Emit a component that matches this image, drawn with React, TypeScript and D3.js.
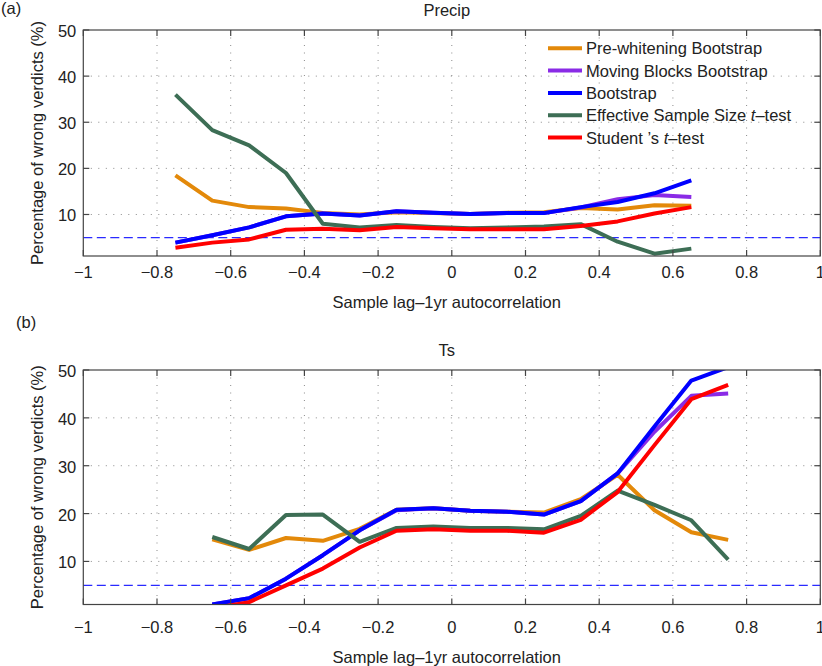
import React from "react";
import { scaleLinear, line, range } from "d3";

// Sample lag-1yr autocorrelation bins
const xsPrecip = [-0.75, -0.65, -0.55, -0.45, -0.35, -0.25, -0.15, -0.05, 0.05, 0.15, 0.25, 0.35, 0.45, 0.55, 0.65];
const xsTs = [-0.65, -0.55, -0.45, -0.35, -0.25, -0.15, -0.05, 0.05, 0.15, 0.25, 0.35, 0.45, 0.55, 0.65, 0.75];

// (a) Precip, percentage of wrong verdicts
const precipPreWhite = [18.5, 13.0, 11.6, 11.3, 10.3, 10.0, 10.5, 10.3, 10.1, 10.4, 10.5, 11.4, 11.1, 12.0, 11.9];
const precipMovingBlocks = [3.9, 5.5, 7.2, 9.6, 10.2, 9.8, 10.7, 10.4, 10.1, 10.3, 10.3, 11.5, 13.3, 14.2, 13.8];
const precipBootstrap = [3.9, 5.5, 7.2, 9.6, 10.2, 9.8, 10.7, 10.4, 10.1, 10.3, 10.3, 11.6, 12.7, 14.6, 17.4];
const precipEffective = [36.0, 28.3, 25.0, 19.0, 8.0, 7.2, 7.7, 7.3, 7.0, 7.2, 7.4, 7.9, 4.1, 1.5, 2.6];
const precipStudent = [2.8, 3.9, 4.6, 6.7, 6.9, 6.6, 7.3, 7.0, 6.8, 6.8, 6.8, 7.5, 8.5, 10.2, 11.6];

// (b) Ts
const tsPreWhite = [14.6, 12.4, 14.9, 14.3, 16.8, 20.8, 21.1, 20.6, 20.4, 20.2, 23.0, 28.1, 20.7, 16.1, 14.5];
const tsMovingBlocks = [1.0, 2.3, 6.4, 11.3, 16.5, 20.7, 21.1, 20.6, 20.4, 19.8, 22.6, 28.4, 37.1, 44.6, 45.1];
const tsBootstrap = [1.0, 2.3, 6.4, 11.3, 16.5, 20.8, 21.1, 20.6, 20.4, 19.8, 22.6, 28.4, 38.2, 47.8, 50.6];
const tsEffective = [15.1, 12.6, 19.7, 19.8, 14.1, 17.0, 17.3, 17.0, 17.0, 16.7, 19.5, 24.8, 21.8, 18.6, 10.4];
const tsStudent = [0.2, 1.5, 5.0, 8.5, 12.9, 16.4, 16.7, 16.4, 16.4, 16.0, 18.7, 24.5, 34.3, 43.9, 46.9];

const seriesNames = [
  "Pre-whitening Bootstrap",
  "Moving Blocks Bootstrap",
  "Bootstrap",
  "Effective Sample Size",
  "Student",
];
const colors = ["#e3890a", "#8a2be6", "#0000ff", "#3d6e55", "#ff0000"];

const xTicks = range(-1, 1.0001, 0.2).map((d) => Math.round(d * 10) / 10);
const yTicks = [10, 20, 30, 40, 50];
const threshold = 5;

const FONT = "'Liberation Sans', Arial, Helvetica, sans-serif";
const FS = 16.5;

const W = 822;
const H = 666;
const left = 83.3;
const right = 820.3;

const fmt = (d: number) => (d === 0 ? "0" : (d < 0 ? "\u2212" : "") + String(Math.abs(d)));

function LegendLabel({ i }: { i: number }) {
  if (i === 3)
    return (
      <>
        Effective Sample Size <tspan fontStyle="italic">t</tspan>–test
      </>
    );
  if (i === 4)
    return (
      <>
        Student ’s <tspan fontStyle="italic">t</tspan>–test
      </>
    );
  return <>{seriesNames[i]}</>;
}

function Panel({
  id,
  top,
  bottom,
  xs,
  series,
  title,
  tag,
  tagX,
  tagY,
  tickLabelDy,
  xLabelY,
  legend,
}: any) {
  const x = scaleLinear().domain([-1, 1]).range([left, right]);
  const y = scaleLinear().domain([1, 50]).range([bottom, top]);
  const path = line<number>()
    .x((_, i) => x(xs[i]))
    .y((d) => y(d));
  const cx = (left + right) / 2 - 5;
  const tick = 6;
  return (
    <g>
      <defs>
        <clipPath id={id}>
          <rect x={left} y={top} width={right - left} height={bottom - top} />
        </clipPath>
      </defs>
      {/* grid */}
      <g stroke="#8a8a8a" strokeWidth={1} strokeDasharray="1 6.5">
        {xTicks.slice(1, -1).map((t) => (
          <line key={"gx" + t} x1={x(t)} x2={x(t)} y1={top} y2={bottom} />
        ))}
        {yTicks.slice(0, -1).map((t) => (
          <line key={"gy" + t} x1={left} x2={right} y1={y(t)} y2={y(t)} />
        ))}
      </g>
      {/* 5% reference */}
      <line
        x1={left}
        x2={right}
        y1={y(threshold)}
        y2={y(threshold)}
        stroke="#2a2aff"
        strokeWidth={1.3}
        strokeDasharray="9 4.5"
      />
      <g clipPath={`url(#${id})`} fill="none" strokeWidth={4} strokeLinejoin="round">
        {series.map((s: number[], i: number) => (
          <path key={i} d={path(s) || ""} stroke={colors[i]} />
        ))}
      </g>
      {/* frame and ticks */}
      <g stroke="#444" strokeWidth={1.2}>
        <rect x={left} y={top} width={right - left} height={bottom - top} fill="none" />
        {xTicks.map((t) => (
          <g key={"tx" + t}>
            <line x1={x(t)} x2={x(t)} y1={bottom} y2={bottom - tick} />
            <line x1={x(t)} x2={x(t)} y1={top} y2={top + tick} />
          </g>
        ))}
        {yTicks.map((t) => (
          <g key={"ty" + t}>
            <line x1={left} x2={left + tick} y1={y(t)} y2={y(t)} />
            <line x1={right} x2={right - tick} y1={y(t)} y2={y(t)} />
          </g>
        ))}
      </g>
      <g fontFamily={FONT} fontSize={FS} fill="#222">
        {xTicks.map((t) => (
          <text
            key={"lx" + t}
            x={x(t)}
            y={bottom + tickLabelDy}
            textAnchor="middle"
            dominantBaseline="central"
          >
            {fmt(t)}
          </text>
        ))}
        {yTicks.map((t) => (
          <text key={"ly" + t} x={left - 7} y={y(t) + 1} textAnchor="end" dominantBaseline="central">
            {t}
          </text>
        ))}
        <text x={cx} y={xLabelY} textAnchor="middle" dominantBaseline="central">
          Sample lag–1yr autocorrelation
        </text>
        <text x={cx} y={top - 20} textAnchor="middle" dominantBaseline="central">
          {title}
        </text>
        <text x={tagX} y={tagY} dominantBaseline="central">
          {tag}
        </text>
        <text
          transform={`translate(37,${(top + bottom) / 2}) rotate(-90)`}
          textAnchor="middle"
          dominantBaseline="central"
        >
          Percentage of wrong verdicts (%)
        </text>
      </g>
      {legend && (
        <g fontFamily={FONT} fontSize={FS} fill="#222">
          {seriesNames.map((_, i) => {
            const ly = 48.3 + i * 22.3;
            return (
              <g key={"lg" + i}>
                <line x1={548} x2={582} y1={ly} y2={ly} stroke={colors[i]} strokeWidth={4} />
                <text x={586} y={ly} dominantBaseline="central">
                  <LegendLabel i={i} />
                </text>
              </g>
            );
          })}
        </g>
      )}
    </g>
  );
}

export default function App() {
  return (
    <svg
      width={W}
      height={H}
      viewBox={`0 0 ${W} ${H}`}
      style={{ position: "absolute", left: 0, top: 0, background: "#fff" }}
    >
      <Panel
        id="clipA"
        top={30}
        bottom={256}
        xs={xsPrecip}
        series={[precipPreWhite, precipMovingBlocks, precipBootstrap, precipEffective, precipStudent]}
        title="Precip"
        tag="(a)"
        tagX={1}
        tagY={8}
        tickLabelDy={15.7}
        xLabelY={301.7}
        legend
      />
      <Panel
        id="clipB"
        top={370}
        bottom={604.5}
        xs={xsTs}
        series={[tsPreWhite, tsMovingBlocks, tsBootstrap, tsEffective, tsStudent]}
        title="Ts"
        tag="(b)"
        tagX={16}
        tagY={321.7}
        tickLabelDy={22}
        xLabelY={657.3}
      />
    </svg>
  );
}
